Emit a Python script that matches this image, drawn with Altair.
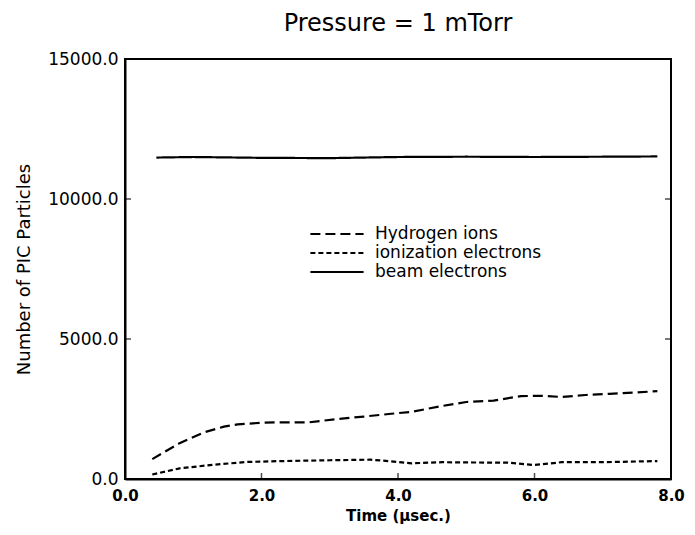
import altair as alt
import pandas as pd

hyd_t = [0.4, 0.8, 1.15, 1.45, 1.65, 2.0, 2.3, 2.7, 3.1, 3.5, 3.9, 4.2, 4.65, 5.0, 5.4, 5.8, 6.1, 6.4, 6.75, 7.1, 7.5, 7.8]
hyd_v = [710, 1280, 1660, 1870, 1950, 2010, 2025, 2025, 2140, 2230, 2330, 2400, 2610, 2750, 2800, 2960, 2970, 2930, 3000, 3040, 3090, 3140]

ion_t = [0.4, 0.8, 1.3, 1.8, 2.3, 3.0, 3.6, 3.9, 4.2, 4.65, 5.1, 5.6, 6.0, 6.4, 7.0, 7.8]
ion_v = [160, 380, 510, 610, 640, 670, 690, 630, 560, 600, 590, 585, 500, 600, 600, 640]

beam_t = [0.46, 1.0, 2.0, 3.0, 4.0, 5.0, 6.0, 7.0, 7.8]
beam_v = [11480, 11500, 11470, 11460, 11500, 11510, 11500, 11510, 11520]

series = ["Hydrogen ions", "ionization electrons", "beam electrons"]
x_ticks = [0, 2, 4, 6, 8]
x_inner_ticks = [2, 4, 6]
y_ticks = [0, 5000, 10000, 15000]
y_inner_ticks = [5000, 10000]

rows = []
for t, v in zip(hyd_t, hyd_v):
    rows.append({"t": t, "v": v, "s": series[0]})
for t, v in zip(ion_t, ion_v):
    rows.append({"t": t, "v": v, "s": series[1]})
for t, v in zip(beam_t, beam_v):
    rows.append({"t": t, "v": v, "s": series[2]})
df = pd.DataFrame(rows)
xt = pd.DataFrame({"t": x_inner_ticks})
yt = pd.DataFrame({"v": y_inner_ticks})

FONT = "DejaVu Sans"

xscale = alt.Scale(domain=[0, 8], nice=False)
yscale = alt.Scale(domain=[0, 15000], nice=False)

lines = alt.Chart(df).mark_line(color="black", strokeWidth=2.2).encode(
    x=alt.X("t:Q", scale=xscale,
            axis=alt.Axis(values=x_ticks, format=".1f", title="Time (µsec.)",
                          ticks=False, grid=False, labelFontWeight="bold",
                          labelFontSize=15, titleFontSize=15, titleFontWeight="bold",
                          labelPadding=9, titlePadding=5, labelFlush=False)),
    y=alt.Y("v:Q", scale=yscale,
            axis=alt.Axis(values=y_ticks, format=".1f", title="Number of PIC Particles",
                          ticks=False, grid=False, labelFontSize=17,
                          titleFontSize=18, titleFontWeight="normal",
                          labelPadding=7, titlePadding=14, labelFlush=False)),
    strokeDash=alt.StrokeDash("s:N", sort=series,
        scale=alt.Scale(domain=series, range=[[10, 5], [5, 3], [1, 0]]),
        legend=alt.Legend(title=None, orient="none", legendX=201, legendY=164,
                          symbolType="M-2.8,0H2.8", symbolSize=361, symbolStrokeWidth=2.2,
                          symbolStrokeColor="black", symbolFillColor="transparent",
                          labelFontSize=17, labelLimit=400,
                          labelOffset=27, rowPadding=0)),
    detail="s:N",
    order="t:Q",
)

xticks_bottom = alt.Chart(xt).mark_tick(orient="vertical", clip=True, size=12,
                                         thickness=1.5, color="black").encode(
    x=alt.X("t:Q", scale=xscale), y=alt.datum(0))

yticks_left = alt.Chart(yt).mark_tick(orient="horizontal", clip=True, size=12,
                                       thickness=1.5, color="black").encode(
    y=alt.Y("v:Q", scale=yscale), x=alt.datum(0))

yticks_right = alt.Chart(yt).mark_tick(orient="horizontal", clip=True, size=12,
                                        thickness=1.5, color="black").encode(
    y=alt.Y("v:Q", scale=yscale), x=alt.datum(8))

chart = alt.layer(lines, xticks_bottom, yticks_left, yticks_right).properties(
    width=546, height=420,
    title=alt.TitleParams("Pressure = 1 mTorr", fontSize=24, fontWeight="normal", font=FONT,
                          anchor="middle", offset=14),
    autosize=alt.AutoSizeParams(type="none"),
    padding={"left": 117, "top": 51, "right": 15, "bottom": 56},
).configure_view(
    stroke="black", strokeWidth=2
).configure_axis(
    domainColor="black", domainWidth=2, labelColor="black", titleColor="black",
    labelFont=FONT, titleFont=FONT
).configure_legend(
    labelFont=FONT, labelColor="black"
)

chart.save("out.html", embed_options={"renderer": "svg", "actions": False})
